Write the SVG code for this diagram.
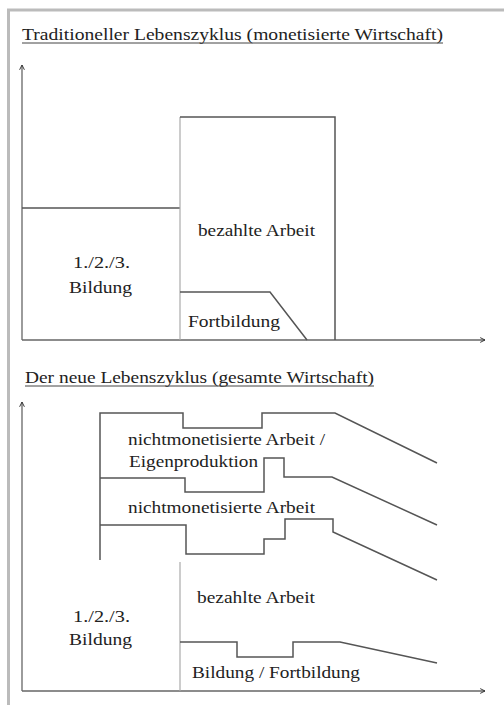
<svg xmlns="http://www.w3.org/2000/svg" width="504" height="705" viewBox="0 0 504 705">
<defs>
<marker id="arr" viewBox="0 0 10 10" refX="9" refY="5" markerWidth="6" markerHeight="6" orient="auto" markerUnits="userSpaceOnUse">
<path d="M1,1 L9,5 L1,9" fill="none" stroke="#333" stroke-width="1.6"/>
</marker>
<style>
text{font-family:'Liberation Serif','DejaVu Serif',serif;fill:#222;font-size:17px}
.ax{stroke:#666;stroke-width:1.3;fill:none}
.ln{stroke:#555;stroke-width:1.5;fill:none}
.lt{stroke:#aaa;stroke-width:1.2;fill:none}
.u{stroke:#444;stroke-width:1}
</style>
</defs>
<rect width="504" height="705" fill="#fff"/>
<path d="M8.5,705 L8.5,10 L504,10" fill="none" stroke="#bbb" stroke-width="3"/>

<g id="title1">
<text x="22" y="40" textLength="421" lengthAdjust="spacingAndGlyphs">Traditioneller Lebenszyklus (monetisierte Wirtschaft)</text>
<line class="u" x1="22" y1="43" x2="443" y2="43"/>
</g>
<g id="title2">
<text x="25" y="383" textLength="349" lengthAdjust="spacingAndGlyphs">Der neue Lebenszyklus (gesamte Wirtschaft)</text>
<line class="u" x1="25" y1="386" x2="374" y2="386"/>
</g>

<g id="connectors">
<line class="ax" x1="22" y1="340" x2="22" y2="65" marker-end="url(#arr)"/>
<line class="ax" x1="22" y1="340" x2="485" y2="340" marker-end="url(#arr)"/>
<line class="ax" x1="22" y1="691" x2="22" y2="402" marker-end="url(#arr)"/>
<line class="ax" x1="22" y1="691" x2="485" y2="691" marker-end="url(#arr)"/>
</g>

<g id="top-bildung">
<line class="ln" x1="22" y1="208" x2="180" y2="208"/>
<text x="73" y="268" textLength="57" lengthAdjust="spacingAndGlyphs">1./2./3.</text>
<text x="69" y="293" textLength="63" lengthAdjust="spacingAndGlyphs">Bildung</text>
</g>
<g id="top-arbeit">
<path class="lt" d="M180,340 L180,117"/>
<path class="ln" d="M180,117 L335,117 L335,340"/>
<text x="198" y="236" textLength="117" lengthAdjust="spacingAndGlyphs">bezahlte Arbeit</text>
</g>
<g id="top-fortbildung">
<path class="ln" d="M180,292 L270,292 L307,340"/>
<text x="188" y="327" textLength="92" lengthAdjust="spacingAndGlyphs">Fortbildung</text>
</g>

<g id="eigenproduktion">
<path class="ln" d="M100,560 L100,413 L183,413 L183,428 L262,428 L262,413 L335,413 L437,463"/>
<text x="128" y="445" textLength="197" lengthAdjust="spacingAndGlyphs">nichtmonetisierte Arbeit /</text>
<text x="129" y="467" textLength="129" lengthAdjust="spacingAndGlyphs">Eigenproduktion</text>
</g>
<g id="nichtmonetisiert">
<path class="ln" d="M100,478 L185,478 L185,492 L264,492 L264,458 L284,458 L284,477 L332,477 L437,525"/>
<text x="128" y="513" textLength="187" lengthAdjust="spacingAndGlyphs">nichtmonetisierte Arbeit</text>
</g>
<g id="bezahlt">
<path class="ln" d="M100,525 L186,525 L186,554 L264,554 L264,539 L285,539 L285,519 L333,519 L333,532 L437,580"/>
<text x="197" y="603" textLength="118" lengthAdjust="spacingAndGlyphs">bezahlte Arbeit</text>
</g>
<g id="bottom-bildung">
<path class="lt" d="M180,562 L180,691"/>
<text x="73" y="622" textLength="57" lengthAdjust="spacingAndGlyphs">1./2./3.</text>
<text x="69" y="645" textLength="63" lengthAdjust="spacingAndGlyphs">Bildung</text>
</g>
<g id="fortbildung">
<path class="ln" d="M180,642 L237,642 L237,657 L293,657 L293,642 L340,642 L437,663"/>
<text x="192" y="678" textLength="168" lengthAdjust="spacingAndGlyphs">Bildung / Fortbildung</text>
</g>
</svg>
